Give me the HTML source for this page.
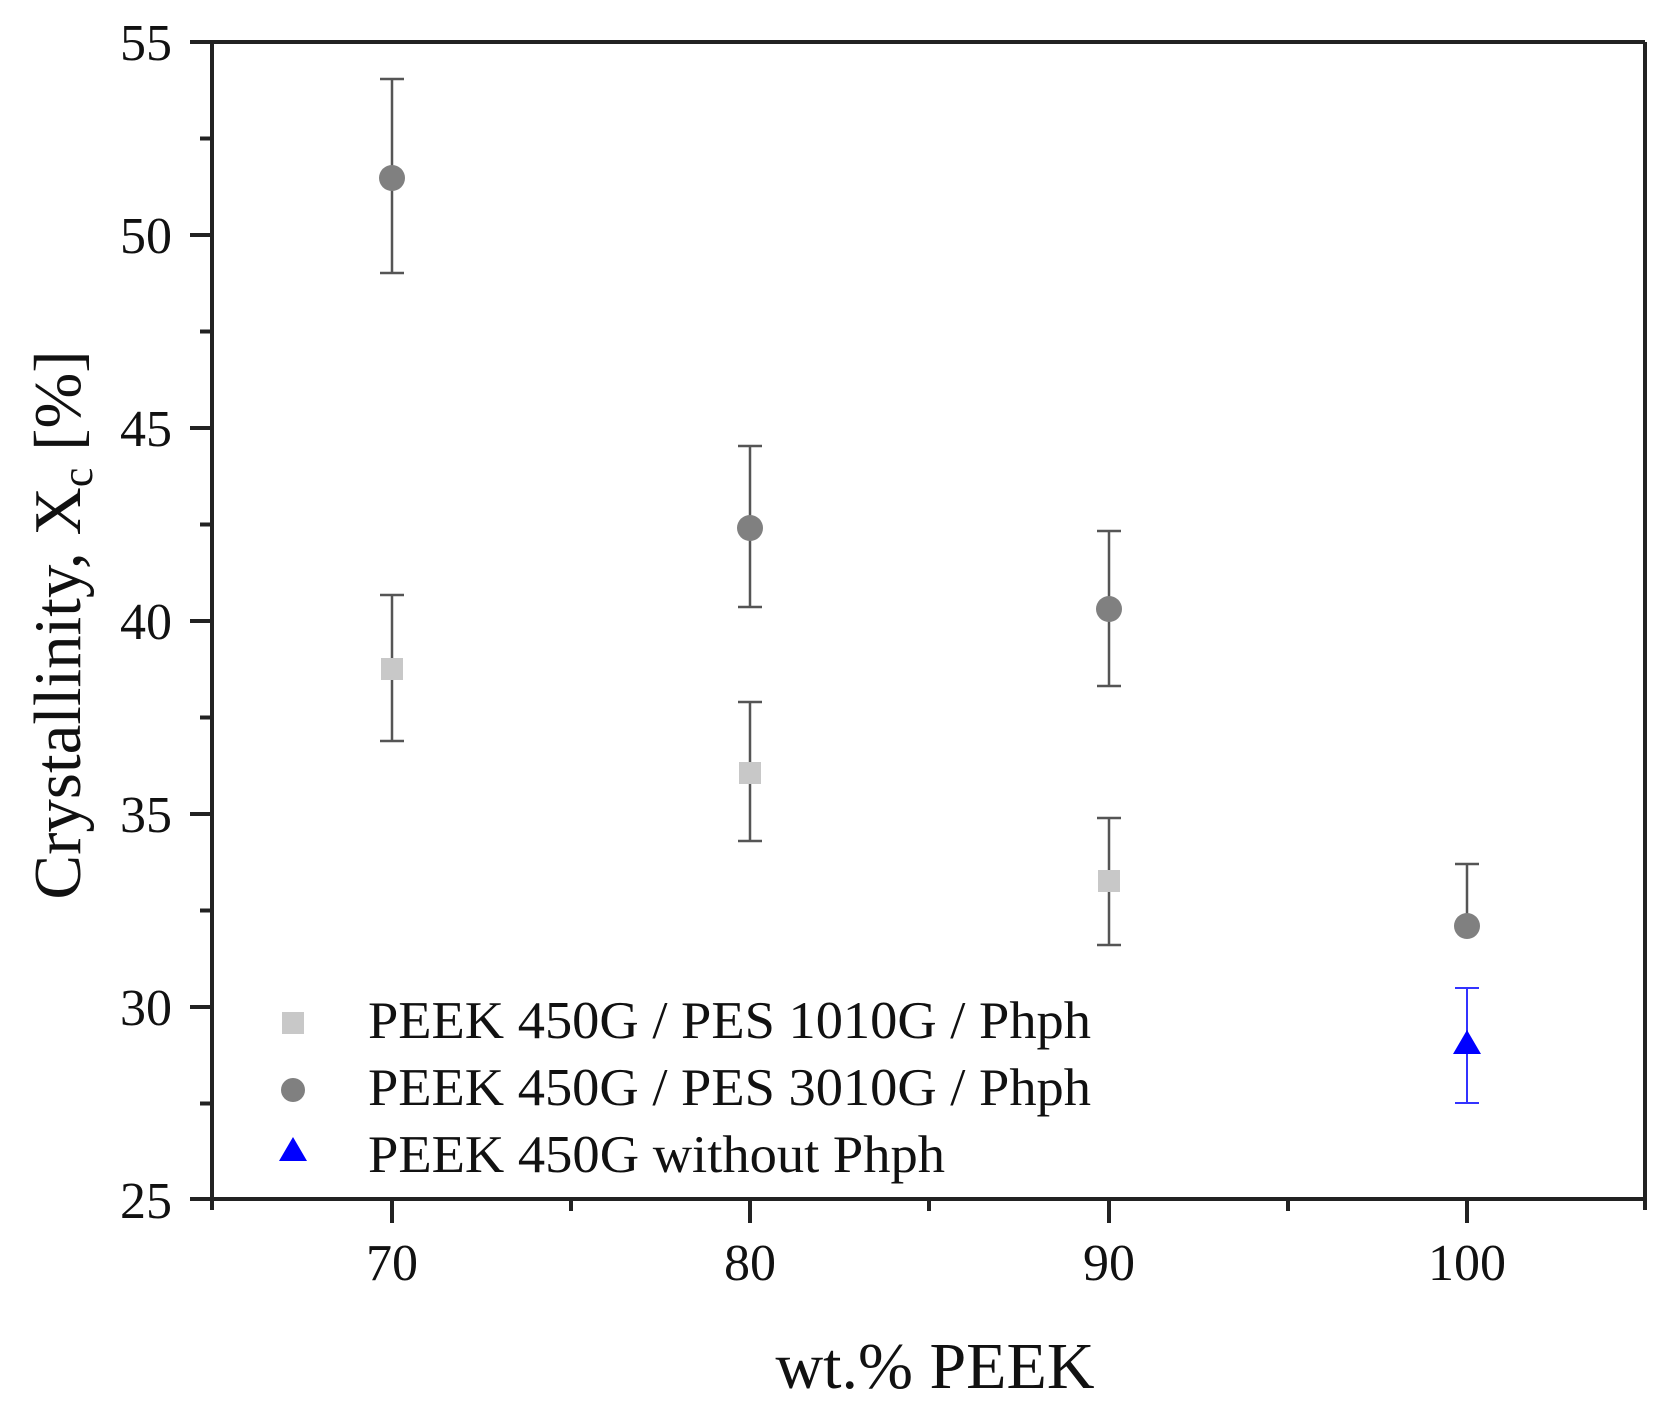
<!DOCTYPE html>
<html><head><style>html,body{margin:0;padding:0;background:#fff}</style></head><body>
<svg width="1667" height="1410" xmlns="http://www.w3.org/2000/svg" font-family="Liberation Serif, serif">
<rect width="1667" height="1410" fill="#fff"/>
<g stroke="#222" stroke-width="4" fill="none">
<line x1="212" y1="42" x2="1645" y2="42"/>
<line x1="1645" y1="42" x2="1645" y2="1210"/>
<line x1="212" y1="42" x2="212" y2="1210"/>
<line x1="190" y1="1199" x2="1645" y2="1199"/>
<line x1="190" y1="42" x2="212" y2="42"/>
<line x1="190" y1="235" x2="212" y2="235"/>
<line x1="190" y1="428" x2="212" y2="428"/>
<line x1="190" y1="621" x2="212" y2="621"/>
<line x1="190" y1="814" x2="212" y2="814"/>
<line x1="190" y1="1007" x2="212" y2="1007"/>
<line x1="200" y1="138.5" x2="212" y2="138.5"/>
<line x1="200" y1="331.5" x2="212" y2="331.5"/>
<line x1="200" y1="524.5" x2="212" y2="524.5"/>
<line x1="200" y1="717.5" x2="212" y2="717.5"/>
<line x1="200" y1="910.5" x2="212" y2="910.5"/>
<line x1="200" y1="1103.5" x2="212" y2="1103.5"/>
<line x1="392" y1="1199" x2="392" y2="1223"/>
<line x1="750" y1="1199" x2="750" y2="1223"/>
<line x1="1109" y1="1199" x2="1109" y2="1223"/>
<line x1="1467" y1="1199" x2="1467" y2="1223"/>
<line x1="571" y1="1199" x2="571" y2="1211"/>
<line x1="929" y1="1199" x2="929" y2="1211"/>
<line x1="1288" y1="1199" x2="1288" y2="1211"/>
</g>
<g font-size="52" fill="#111" text-anchor="end">
<text x="172" y="60">55</text>
<text x="172" y="253">50</text>
<text x="172" y="446">45</text>
<text x="172" y="639">40</text>
<text x="172" y="832">35</text>
<text x="172" y="1025">30</text>
<text x="172" y="1218">25</text>
</g>
<g font-size="52" fill="#111" text-anchor="middle">
<text x="392" y="1280">70</text>
<text x="750" y="1280">80</text>
<text x="1109" y="1280">90</text>
<text x="1467" y="1280">100</text>
</g>
<text x="935" y="1388" font-size="66" text-anchor="middle" fill="#111">wt.% PEEK</text>
<text transform="translate(80,625) rotate(-90)" font-size="67" text-anchor="middle" fill="#111">Crystallinity, X<tspan font-size="44" dy="12">c</tspan><tspan dy="-12"> [%]</tspan></text>
<g stroke="#555" stroke-width="2.5">
<path d="M392 79V273M380 79H404M380 273H404"/>
<path d="M750 446V607M738 446H762M738 607H762"/>
<path d="M1109 531V686M1097 531H1121M1097 686H1121"/>
<path d="M1467 864V926M1455 864H1479M1455 926H1479"/>
<path d="M392 595V741M380 595H404M380 741H404"/>
<path d="M750 702V841M738 702H762M738 841H762"/>
<path d="M1109 818V945M1097 818H1121M1097 945H1121"/>
</g>
<g stroke="#3333ff" stroke-width="2">
<path d="M1467 988V1103M1455 988H1479M1455 1103H1479"/>
</g>
<g fill="#808080">
<circle cx="392" cy="178" r="13"/>
<circle cx="750" cy="528" r="13"/>
<circle cx="1109" cy="609" r="13"/>
<circle cx="1467" cy="926" r="13"/>
<circle cx="293" cy="1090" r="12"/>
</g>
<g fill="#c8c8c8">
<rect x="381" y="658" width="22" height="22"/>
<rect x="739" y="762" width="22" height="22"/>
<rect x="1098" y="870" width="22" height="22"/>
<rect x="282" y="1012" width="22" height="22"/>
</g>
<g fill="#0000ff">
<polygon points="1467,1030 1481,1054 1453,1054"/>
<polygon points="293,1137 307,1161 279,1161"/>
</g>
<g font-size="53" fill="#111">
<text x="368" y="1038" textLength="723" lengthAdjust="spacingAndGlyphs">PEEK 450G / PES 1010G / Phph</text>
<text x="368" y="1105" textLength="723" lengthAdjust="spacingAndGlyphs">PEEK 450G / PES 3010G / Phph</text>
<text x="368" y="1172" textLength="577" lengthAdjust="spacingAndGlyphs">PEEK 450G without Phph</text>
</g>
</svg>
</body></html>
